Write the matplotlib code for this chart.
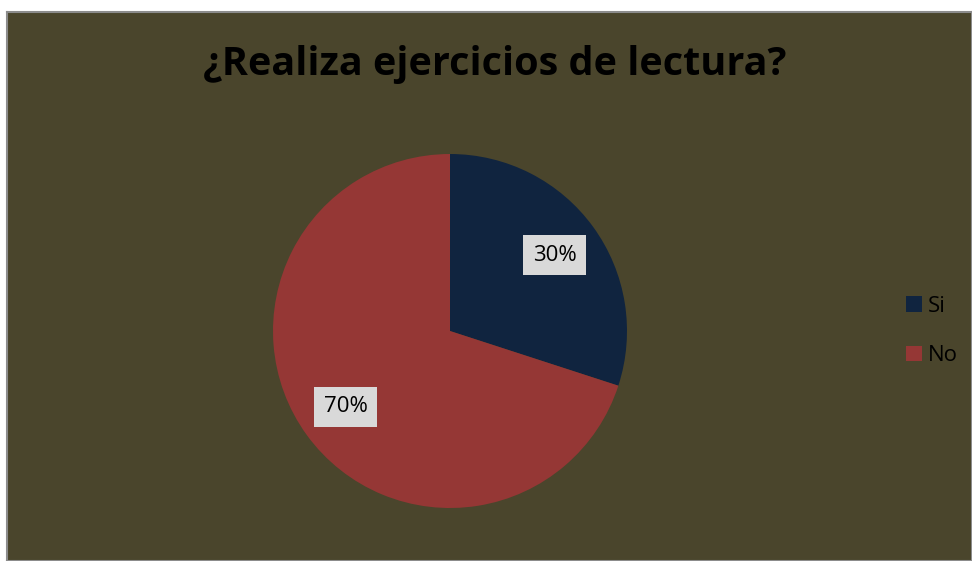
import matplotlib
matplotlib.use("Agg")
import matplotlib.pyplot as plt

categories = ["Si", "No"]
values = [30, 70]
colors = ["#10243F", "#953735"]
title = "¿Realiza ejercicios de lectura?"

W, H = 972, 561
fig = plt.figure(figsize=(W/100, H/100), dpi=100)
fig.patch.set_facecolor("white")

bgax = fig.add_axes([7/W, 0, 1 - 7/W, (H-12)/H], zorder=0)
bgax.set_facecolor("#4A452C")
bgax.set_xticks([])
bgax.set_yticks([])
for s in bgax.spines.values():
    s.set_color("#8C8C8C")
    s.set_linewidth(1.5)

cx, cy, r = 450, 331, 177
ax = fig.add_axes([(cx-r)/W, (H-cy-r)/H, 2*r/W, 2*r/H], zorder=2)
ax.set_aspect("equal")
ax.axis("off")
wedges, texts, autotexts = ax.pie(values, colors=colors, startangle=90, counterclock=False,
                                  autopct="%1.0f%%", pctdistance=0.73,
                                  wedgeprops=dict(linewidth=0),
                                  textprops=dict(fontsize=16, family="Open Sans", color="black"))
for t in autotexts:
    t.set_bbox(dict(facecolor="#D9D9D9", edgecolor="none", pad=7))
ax.set_xlim(-1, 1)
ax.set_ylim(-1, 1)

fig.text(495/W, 1 - 65/H, title, ha="center", va="center", fontsize=28.5,
         fontweight="bold", family="Open Sans", color="black", zorder=3)

leg = fig.legend(wedges, categories, loc="center left", bbox_to_anchor=(886/W, 1 - 331/H),
                 frameon=False, prop=dict(family="Open Sans", size=16),
                 handlelength=0.7, handleheight=0.7, handletextpad=0.3, labelspacing=1.3)
leg.set_zorder(3)
for t in leg.get_texts():
    t.set_color("black")

fig.savefig("out.png", dpi=100)
